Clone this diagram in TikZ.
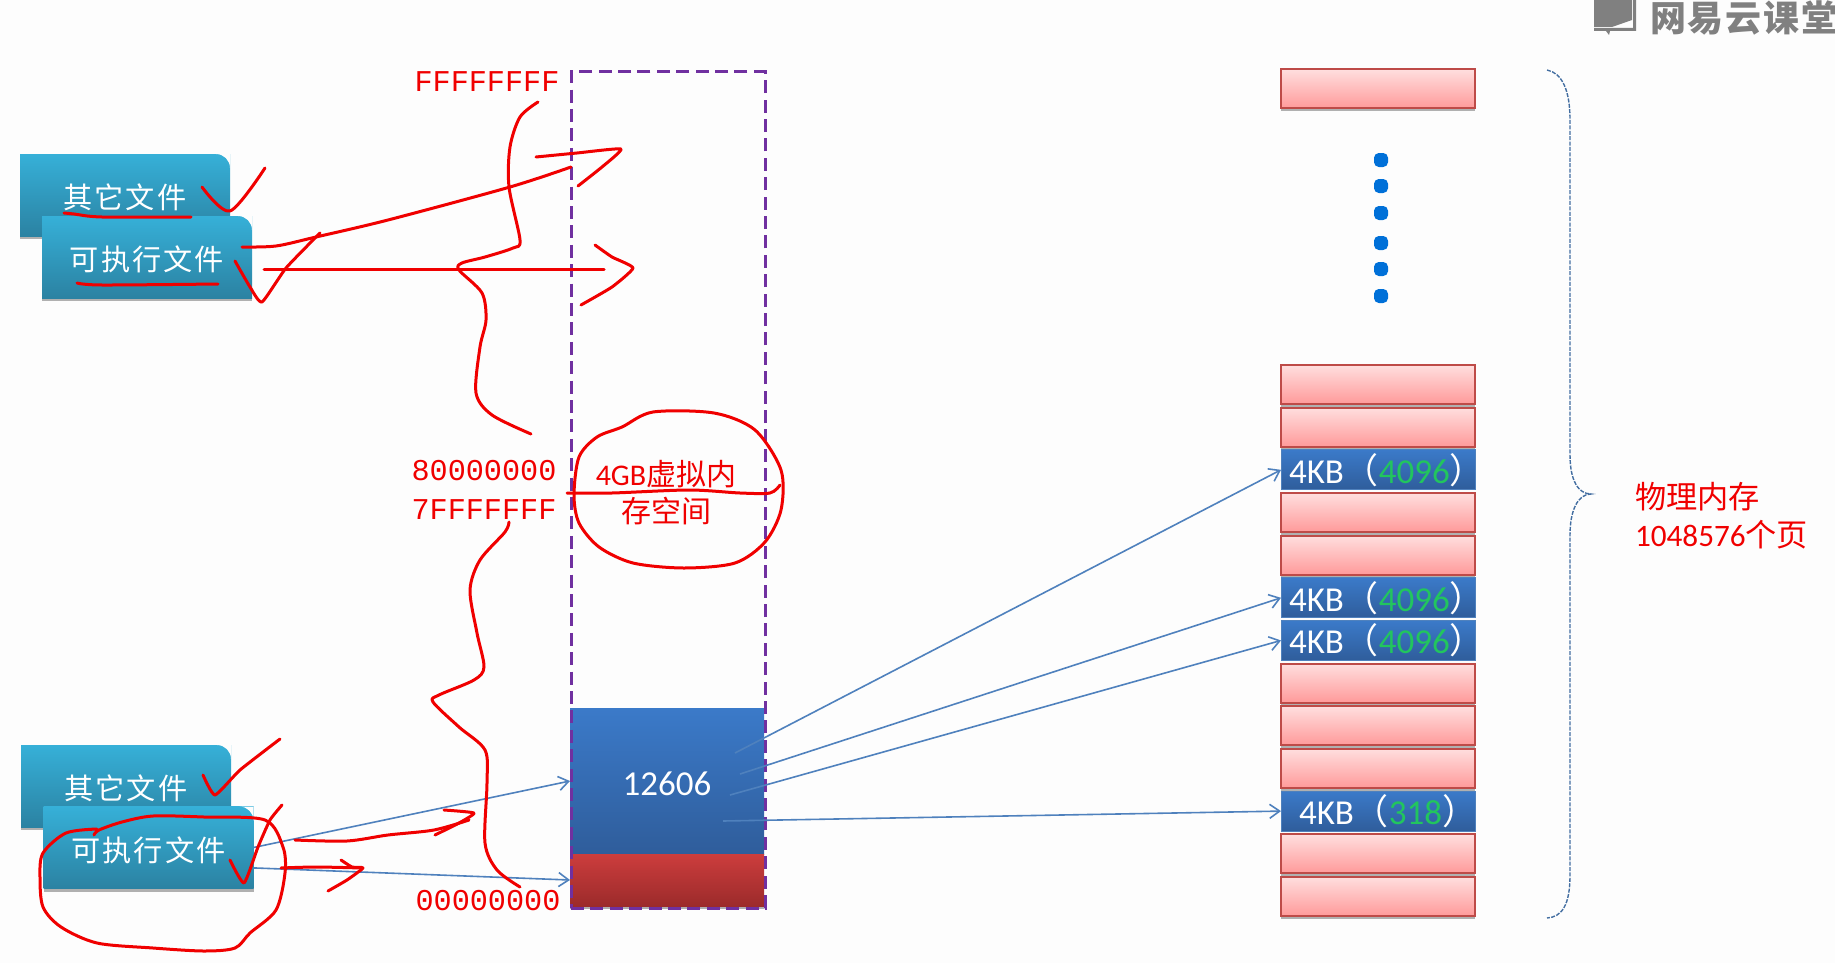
\documentclass[tikz,border=0pt]{standalone}
\usepackage{fontspec}
\setmainfont{Carlito}
\newfontfamily\cjk{Noto Sans CJK SC}
\newfontfamily\cjkwide[LetterSpace=7]{Noto Sans CJK SC}
\newfontfamily\cjkmark[LetterSpace=5]{Noto Sans CJK SC}
\newfontfamily\hexfont{Liberation Mono}
\usetikzlibrary{positioning,arrows,arrows.meta,shadows}
\definecolor{pagebg}{HTML}{FDFDFD}
\definecolor{inkred}{HTML}{F00000}
\definecolor{linkblue}{HTML}{4F81BD}
\definecolor{pagegreen}{HTML}{22C55E}
\definecolor{cardtop}{HTML}{36B0D8}
\definecolor{cardbot}{HTML}{2B82A2}
\definecolor{pinktop}{HTML}{FFDEDE}
\definecolor{pinkbot}{HTML}{FF9A9A}
\definecolor{pageedge}{HTML}{BE4B48}
\definecolor{blocktop}{HTML}{3B7AC9}
\definecolor{blockbot}{HTML}{2F5D9B}
\definecolor{stacktop}{HTML}{CC3D3D}
\definecolor{stackbot}{HTML}{9C2B2B}
\definecolor{dotblue}{HTML}{0070D8}
\definecolor{spaceedge}{HTML}{7030A0}
\definecolor{markgray}{HTML}{808080}
\newcommand{\kbtext}[2]{\makebox[97pt][l]{\hspace*{#1}\raisebox{-0.6pt}{4KB{\cjk（}\textcolor{pagegreen}{#2}{\cjk）}}}}
\tikzset{
	every node/.style = {inner sep = 0pt, outer sep = 0pt},
	softshadow/.style = {drop shadow = {shadow xshift = 0pt, shadow yshift = -1.5pt, opacity = 0.3, fill = black}},
	filecard/.style = {rectangle, minimum width = 105pt, minimum height = 41pt, top color = cardtop, bottom color = cardbot, softshadow, text = white, text height = 14pt, text depth = 0.4pt, font = \cjkwide\fontsize{14.6}{17}\selectfont,
		path picture = {\fill[pagebg] (path picture bounding box.north east) -- ++(-7pt,0pt) arc[start angle = 90, end angle = 0, radius = 7pt] -- cycle;}},
	pagefree/.style = {rectangle, minimum width = 97pt, minimum height = 19.5pt, draw = pageedge, line width = 1pt, top color = pinktop, bottom color = pinkbot, softshadow},
	pageused/.style = {rectangle, minimum width = 97pt, minimum height = 20pt, draw = linkblue, line width = 0.4pt, top color = blocktop, bottom color = blockbot, text = white, font = \fontsize{17.5}{20}\selectfont},
	addrlabel/.style = {text = inkred, font = \hexfont\fontsize{15.1}{17}\selectfont},
	dotmark/.style = {rectangle, rounded corners = 2.4pt, minimum size = 7pt, fill = dotblue},
	link/.style = {-{Straight Barb[length = 5pt, width = 7pt]}, linkblue, line width = 0.8pt},
	ink/.style = {inkred, line width = 1.5pt, line cap = round, line join = round},
}
\begin{document}
\begin{tikzpicture}[x = 0.5pt, y = -0.5pt]
	\useasboundingbox (0,0) rectangle (1835,963);
	\clip (0,0) rectangle (1835,963);
	\fill[pagebg] (0,0) rectangle (1835,963);

	% watermark
	\fill[markgray] (1594,0) -- (1632,0) -- (1632,20) -- (1612,27) -- (1594,27) -- cycle;
	\fill[markgray] (1633,0) -- (1636,0) -- (1636,31) -- (1610,31) -- (1609,35) -- (1606,31) -- (1594,31) -- (1594,28) -- (1633,28) -- cycle;
	\node[text = markgray, anchor = west, font = \cjkmark\bfseries\fontsize{18}{20}\selectfont] (wm) at (1650,18) {网易云课堂};

	% files, upper pair
	\node[filecard] (fo0) at (125,195) {其它文件};
	\node[filecard] (fx0) at (147,257) {可执行文件};
	% files, lower pair
	\node[filecard] (fo1) at (126,786) {其它文件};
	\node[filecard] (fx1) at (148.5,847.5) {可执行文件};

	% virtual space
	\node[rectangle, minimum width = 97pt, minimum height = 73pt, top color = blocktop, bottom color = blockbot, text = white, text height = 14.4pt, text depth = 0pt, font = \fontsize{17.5}{20}\selectfont] (b0) at (667,781) {12606};
	\node[rectangle, minimum width = 97pt, minimum height = 26pt, top color = stacktop, bottom color = stackbot, softshadow] (b1) at (667,880) {};
	\node[rectangle, minimum width = 97pt, minimum height = 418pt, draw = spaceedge, line width = 1.5pt, dash pattern = on 6.5pt off 3.2pt] (vm) at (668,490) {};

	\node[addrlabel] (a0) at (487,82) {FFFFFFFF};
	\node[addrlabel] (a1) at (484,471) {80000000};
	\node[addrlabel] (a2) at (484,510) {7FFFFFFF};
	\node[addrlabel] (a3) at (488,901) {00000000};
	\node[text = inkred, align = center, font = \cjk\fontsize{15}{18.5}\selectfont] (v0) at (666,493) {{\fontspec{Carlito}4GB}虚拟内\\存空间};

	% physical pages
	\begin{scope}[on grid, node distance = 21.33pt]
		\node[pagefree] (top) at (1378,89) {};
		\node[pagefree] (p0) at (1378,384.5) {};
		\node[pagefree] (p1) [below = of p0] {};
		\node[pageused] (p2) [below = of p1] {\kbtext{4pt}{4096}};
		\node[pagefree] (p3) [below = of p2] {};
		\node[pagefree] (p4) [below = of p3] {};
		\node[pageused] (p5) [below = of p4] {\kbtext{4pt}{4096}};
		\node[pageused] (p6) [below = of p5] {\kbtext{4pt}{4096}};
		\node[pagefree] (p7) [below = of p6] {};
		\node[pagefree] (p8) [below = of p7] {};
		\node[pagefree] (p9) [below = of p8] {};
		\node[pageused] (p10) [below = of p9] {\kbtext{9pt}{318}};
		\node[pagefree] (p11) [below = of p10] {};
		\node[pagefree] (p12) [below = of p11] {};
	\end{scope}
	\node[dotmark] (d0) at (1381,160) {};
	\node[dotmark] (d1) at (1381,186) {};
	\node[dotmark] (d2) at (1381,213) {};
	\node[dotmark] (d3) at (1381,243) {};
	\node[dotmark] (d4) at (1381,269) {};
	\node[dotmark] (d5) at (1381,296) {};

	\draw[linkblue!85!black, line width = 0.7pt, dash pattern = on 2pt off 0.7pt] (1547,70) .. controls (1562,73) and (1570,90) .. (1570,120) -- (1570,455) .. controls (1570,480) and (1578,494) .. (1591,494) .. controls (1578,494) and (1570,510) .. (1570,535) -- (1570,875) .. controls (1570,905) and (1562,917) .. (1547,918);
	\node[text = inkred, anchor = west, align = left, font = \fontsize{15.6}{19}\selectfont] (mem) at (1635,516) {{\cjk 物理内存}\\1048576{\cjk 个页}};

	% mappings
	\coordinate (o0) at (735,753);
	\coordinate (o1) at (740,774);
	\coordinate (o2) at (730,795);
	\coordinate (o3) at (723,821);
	\draw[link] (fx1.east) -- (b0.west);
	\draw[link] (fx1.-11) -- (b1.west);
	\draw[link] (o0) -- (p2.west);
	\draw[link] (o1) -- (p5.west);
	\draw[link] (o2) -- (p6.west);
	\draw[link] (o3) -- (p10.west);

	% pen strokes, upper part
	\draw[ink] plot[smooth] coordinates {(202,187) (230,211) (265,168)};
	\draw[ink] plot[smooth] coordinates {(64,213) (74,214) (102,217) (191,217)};
	\draw[ink] plot[smooth] coordinates {(242,247) (276,246) (316,237) (388,220) (510,187) (571,167)};
	\draw[ink] plot[smooth, tension = 0.3] coordinates {(536,157) (577,153) (621,149) (602,167) (578,186)};
	\draw[ink] plot[smooth, tension = 0.3] coordinates {(235,261) (250,287) (262,302) (286,268) (320,233)};
	\draw[ink] plot[smooth] coordinates {(77,283) (102,285) (218,284)};
	\draw[ink] (264,269) -- (604,269);
	\draw[ink] plot[smooth, tension = 0.3] coordinates {(595,245) (612,257) (633,268) (612,287) (581,305)};
	\draw[ink] plot[smooth] coordinates {(538,102) (520,117) (510,147) (509,187) (520,240) (513,248) (485,257) (462,263) (459,270) (482,293) (486,320) (480,347) (476,393) (492,415) (531,434)};
	\draw[ink] plot[smooth cycle] coordinates {(622,427) (653,412) (714,413) (755,430) (781,470) (781,510) (765,542) (735,563) (684,568) (633,563) (599,547) (579,523) (574,495) (579,457) (597,437)};
	\draw[ink] plot[smooth] coordinates {(567,493) (612,493) (689,490) (740,493) (770,493) (780,485)};

	% pen strokes, lower part
	\draw[ink] plot[smooth] coordinates {(509,522) (505,532) (480,560) (470,590) (477,633) (484,667) (474,680) (439,695) (433,702) (459,727) (485,750) (487,783) (485,843) (497,870) (520,887)};
	\draw[ink] plot[smooth, tension = 0.3] coordinates {(203,775) (215,795) (240,770) (280,739)};
	\draw[ink] plot[smooth, tension = 0.3] coordinates {(230,860) (244,883) (258,847) (270,820) (282,805)};
	\draw[ink] plot[smooth] coordinates {(94,835) (99,830) (122,822) (153,816) (204,817) (265,820) (283,847) (285,873) (276,910) (250,933) (235,948) (204,951) (153,948) (97,943) (61,927) (43,907) (40,877) (43,853) (66,833) (97,829)};
	\draw[ink] plot[smooth] coordinates {(295,840) (347,841) (388,835) (434,830) (469,820)};
	\draw[ink] plot[smooth, tension = 0.3] coordinates {(444,810) (474,813) (459,823) (435,835)};
	\draw[ink] plot[smooth] coordinates {(281,868) (316,867) (362,868)};
	\draw[ink] plot[smooth, tension = 0.3] coordinates {(341,860) (352,867) (363,868) (347,880) (328,891)};
\end{tikzpicture}
\end{document}
